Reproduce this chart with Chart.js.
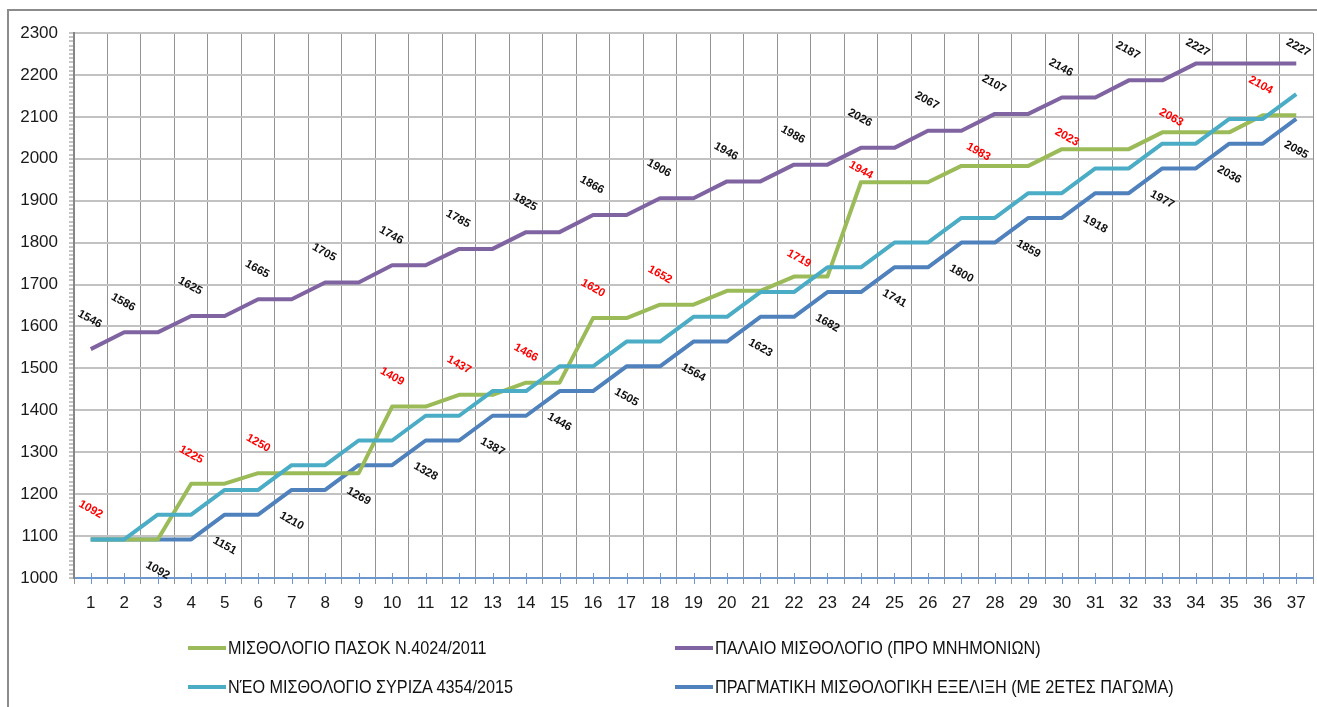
<!DOCTYPE html>
<html>
<head>
<meta charset="utf-8">
<script src="https://cdn.jsdelivr.net/npm/chart.js@4/dist/chart.umd.min.js"></script>
<style>
  body { margin: 0; background: #fff; font-family: "Liberation Sans", Arial, sans-serif; }
  #wrap { position: relative; width: 1317px; height: 707px; overflow: hidden; }
  #frame { position: absolute; left: 7px; top: 9px; width: 1400px; height: 800px;
           border-left: 2px solid #8c8c8c; border-top: 2px solid #8c8c8c; }
  #chartBox { position: absolute; left: 0; top: 0; width: 1317px; height: 707px; }
  .leg { position: absolute; height: 20px; line-height: 20px; font-size: 18px; color: #111; white-space: nowrap; }
  .leg i { position: absolute; left: 0; top: 8px; width: 38px; height: 4px; }
  .leg span { position: absolute; left: 40px; top: 0; transform: scaleX(0.9); transform-origin: 0 50%; }
</style>
</head>
<body>
<div id="wrap">
  <div id="frame"></div>
  <div id="chartBox"><canvas id="salaryChart"></canvas></div>
  <div id="legend"></div>
</div>
<script>
// categories (years of service / grade steps)
const categories = ["1","2","3","4","5","6","7","8","9","10","11","12","13","14","15","16","17","18","19",
  "20","21","22","23","24","25","26","27","28","29","30","31","32","33","34","35","36","37"];

// series values
const pasok = [1092,1092,1092,1225,1225,1250,1250,1250,1250,1409,1409,1437,1437,1466,1466,1620,1620,1652,1652,
  1685,1685,1719,1719,1944,1944,1944,1983,1983,1983,2023,2023,2023,2063,2063,2063,2104,2104];
const palaio = [1546,1586,1586,1625,1625,1665,1665,1705,1705,1746,1746,1785,1785,1825,1825,1866,1866,1906,1906,
  1946,1946,1986,1986,2026,2026,2067,2067,2107,2107,2146,2146,2187,2187,2227,2227,2227,2227];
const syriza = [1092,1092,1151,1151,1210,1210,1269,1269,1328,1328,1387,1387,1446,1446,1505,1505,1564,1564,1623,
  1623,1682,1682,1741,1741,1800,1800,1859,1859,1918,1918,1977,1977,2036,2036,2095,2095,2154];
const pragmatiki = [1092,1092,1092,1092,1151,1151,1210,1210,1269,1269,1328,1328,1387,1387,1446,1446,1505,1505,
  1564,1564,1623,1623,1682,1682,1741,1741,1800,1800,1859,1859,1918,1918,1977,1977,2036,2036,2095];

// which points carry a value label (1-based category)
const pasokLabelAt = [1,4,6,10,12,14,16,18,22,24,27,30,33,36];
const palaioLabelAt = [1,2,4,6,8,10,12,14,16,18,20,22,24,26,28,30,32,34,37];
const pragmatikiLabelAt = [3,5,7,9,11,13,15,17,19,21,23,25,27,29,31,33,35,37];

// y axis
const yMin = 1000;
const yMax = 2300;

const seriesNames = [
  "ΜΙΣΘΟΛΟΓΙΟ ΠΑΣΟΚ Ν.4024/2011",
  "ΠΑΛΑΙΟ ΜΙΣΘΟΛΟΓΙΟ (ΠΡΟ ΜΝΗΜΟΝΙΩΝ)",
  "ΝΈΟ ΜΙΣΘΟΛΟΓΙΟ ΣΥΡΙΖΑ 4354/2015",
  "ΠΡΑΓΜΑΤΙΚΗ ΜΙΣΘΟΛΟΓΙΚΗ ΕΞΕΛΙΞΗ (ΜΕ 2ΕΤΕΣ ΠΑΓΩΜΑ)"
];
const seriesColors = ["#9bbb59", "#8064a2", "#4bacc6", "#4f81bd"];

// label placement (px) relative to the point; some labels were nudged by hand in the original
const pasokLabelShift = [[0,-30],[0,-29],[0,-30],[0,-30],[0,-30],[0,-30],[0,-30],[0,-30],
  [5,-18],[0,-12],[17,-14],[5,-12],[9,-15],[-2,-30]];
const palaioLabelShift = palaioLabelAt.map((n, i) => i >= palaioLabelAt.length - 2 ? [2,-16] : [-1,-30]);
const pragmatikiLabelShift = pragmatikiLabelAt.map(() => [0,31]);

Chart.defaults.font.family = "'Liberation Sans', Arial, sans-serif";

// rotated value labels
const valueLabels = {
  id: "valueLabels",
  afterDatasetsDraw(chart) {
    const ctx = chart.ctx;
    chart.data.datasets.forEach((ds, di) => {
      if (!ds.labelAt) return;
      const meta = chart.getDatasetMeta(di);
      ds.labelAt.forEach((n, k) => {
        const pt = meta.data[n - 1];
        const sh = ds.labelShift[k];
        ctx.save();
        ctx.translate(pt.x + sh[0], pt.y + sh[1]);
        ctx.rotate(29 * Math.PI / 180);
        ctx.font = "bold 11.5px 'Liberation Sans', Arial, sans-serif";
        ctx.fillStyle = ds.labelColor;
        ctx.textAlign = "center";
        ctx.textBaseline = "middle";
        ctx.fillText(String(ds.data[n - 1]), 0, 0);
        ctx.restore();
      });
    });
  }
};

// blue tick marks at category centres on the x axis
const centreTicks = {
  id: "centreTicks",
  beforeDatasetsDraw(chart) {
    const ctx = chart.ctx;
    const x = chart.scales.x;
    const b = chart.chartArea.bottom;
    ctx.save();
    ctx.strokeStyle = "#6d97cf";
    ctx.lineWidth = 1;
    categories.forEach((c, i) => {
      const px = Math.round(x.getPixelForValue(i)) + 0.5;
      ctx.beginPath();
      ctx.moveTo(px, b - 5);
      ctx.lineTo(px, b + 6);
      ctx.stroke();
    });
    ctx.restore();
  }
};

const datasets = [
  { label: seriesNames[0], data: pasok, borderColor: seriesColors[0], order: 1,
    labelAt: pasokLabelAt, labelShift: pasokLabelShift, labelColor: "#ff0000" },
  { label: seriesNames[1], data: palaio, borderColor: seriesColors[1], order: 3,
    labelAt: palaioLabelAt, labelShift: palaioLabelShift, labelColor: "#111" },
  { label: seriesNames[2], data: syriza, borderColor: seriesColors[2], order: 0 },
  { label: seriesNames[3], data: pragmatiki, borderColor: seriesColors[3], order: 2,
    labelAt: pragmatikiLabelAt, labelShift: pragmatikiLabelShift, labelColor: "#111" }
];
datasets.forEach(d => {
  d.borderWidth = 4;
  d.pointRadius = 0;
  d.tension = 0;
  d.fill = false;
  d.borderJoinStyle = "round";
});

new Chart(document.getElementById("salaryChart"), {
  type: "line",
  data: { labels: categories, datasets: datasets },
  plugins: [centreTicks, valueLabels],
  options: {
    responsive: true,
    maintainAspectRatio: false,
    animation: false,
    layout: { padding: { left: 0, top: 33, right: 4, bottom: 89 } },
    plugins: { legend: { display: false }, tooltip: { enabled: false } },
    scales: {
      x: {
        offset: true,
        grid: { offset: true, color: "#939393", lineWidth: 1, tickColor: "#939393", tickLength: 6 },
        border: { color: "#6d97cf", width: 2 },
        ticks: { color: "#1a1a1a", font: { size: 17 }, padding: 9, maxRotation: 0, autoSkip: false },
        afterFit(s) { s.height = 40; }
      },
      y: {
        min: yMin,
        max: yMax,
        grid: {
          color: c => (c.tick && c.tick.value % 100 === 0 && c.tick.value !== yMin) ? "#c2c2c2" : "rgba(0,0,0,0)",
          lineWidth: 2,
          tickColor: "#8a8a8a",
          tickWidth: 1,
          tickLength: 5
        },
        border: { color: "#868686", width: 2 },
        ticks: {
          stepSize: 10,
          autoSkip: false,
          color: "#1a1a1a",
          font: { size: 17 },
          padding: 11,
          callback: v => (v % 100 === 0 ? v : "")
        },
        afterFit(s) { s.width = 74; }
      }
    }
  }
});

// legend, 2 x 2 like the original
const legendPos = [[188, 638], [675, 638], [188, 677], [675, 677]];
const legendEl = document.getElementById("legend");
seriesNames.forEach((name, i) => {
  const item = document.createElement("div");
  item.className = "leg";
  item.style.left = legendPos[i][0] + "px";
  item.style.top = legendPos[i][1] + "px";
  item.innerHTML = '<i style="background:' + seriesColors[i] + '"></i><span>' + name + "</span>";
  legendEl.appendChild(item);
});
</script>
</body>
</html>
